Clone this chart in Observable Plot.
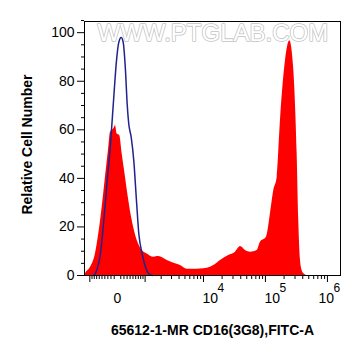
<!DOCTYPE html>
<html><head><meta charset="utf-8">
<script src="https://cdn.jsdelivr.net/npm/d3@7"></script>
<script src="https://cdn.jsdelivr.net/npm/@observablehq/plot@0.6"></script>
<style>body{margin:0;background:#fff} #chart{width:361px;height:356px}</style>
</head><body><div id="chart"></div>
<script>
// Histogram positions are in display units (decades on the biexponential axis, 0 = value 0)
const redX = [-0.532,-0.516,-0.435,-0.355,-0.302,-0.247,-0.194,-0.140,-0.113,-0.060,-0.032,-0.005,0.037,0.076,0.129,0.182,0.237,0.318,0.398,0.479,0.585,0.666,0.802,0.935,1.016,1.124,1.23,1.339,1.447,1.553,1.661,1.795,1.903,1.984,2.065,2.145,2.253,2.306,2.403,2.468,2.521,2.576,2.629,2.710,2.779,2.844,2.898,2.924,2.952,2.979,3.016,3.048,3.597];
const redY = [0,0.8,3.4,9,17.1,28,40.5,52.8,59,60.4,61.7,58.3,57.6,50,40.5,30.9,22.6,14.4,10.3,8.9,7.5,7.8,6.2,4.8,4.1,2.6,2.6,2.7,3.0,4.1,6.2,8.2,9.6,11.9,10.3,9.6,10.3,13.7,15.8,25.5,35,40.5,63.8,88.5,96.7,84.4,50,22.6,6.2,2,0.5,0,0];
const blueX = [-0.382,-0.327,-0.274,-0.221,-0.166,-0.113,-0.060,-0.016,0.021,0.060,0.092,0.129,0.156,0.182,0.221,0.263,0.306,0.344,0.398,0.452,0.505,0.560];
const blueY = [0,2.7,9,22.6,39,54,73.4,88.5,96,98,96,84.4,70.7,62.4,57,47.3,30.9,17.2,8.9,3.4,0.7,0];

const yMajor = [0,20,40,60,80,100];
const yMinor = [5,10,15,25,30,35,45,50,55,65,70,75,85,90,95,105];
const xMajorRaw = [-1000,1000,10000,100000,1000000];
const xMinorRaw = [-900,-800,-700,-600,-500,-400,-300,-200,-100,100,200,300,400,500,600,700,800,900,
  2000,3000,4000,5000,6000,7000,8000,9000,20000,30000,40000,50000,60000,70000,80000,90000,
  200000,300000,400000,500000,600000,700000,800000,900000];
const zeroLabel = ["0"];
const powLabels = [{v:10000, e:"4"},{v:100000, e:"5"}];
const powLabelsEdge = [{v:1000000, e:"6"}];
const xTitle = "65612-1-MR CD16(3G8),FITC-A";
const yTitle = "Relative Cell Number";
const watermark = "WWW.PTGLAB.COM";

const W = 411;
const disp = v => Math.asinh(v / (2 * W)) / Math.LN10;

const red = redX.map((x, i) => ({x, y: redY[i]}));
const blue = blueX.map((x, i) => ({x, y: blueY[i]}));
const font = "Liberation Sans, Arial, sans-serif";

const plot = Plot.plot({
  width: 361, height: 356,
  marginLeft: 84, marginRight: 21, marginTop: 21, marginBottom: 81,
  style: {fontFamily: font, background: "white", color: "black"},
  x: {domain: [-0.532, 3.597]},
  y: {domain: [0, 104.6]},
  marks: [
    Plot.text([watermark], {frameAnchor: "top-left", dx: 13, dy: 12, textAnchor: "start", lineAnchor: "middle",
      fontSize: 24, fill: "white", stroke: "#c4c4c4", strokeWidth: 1.6, text: d => d}),
    Plot.areaY(red, {x: "x", y: "y", fill: "#ff0000", curve: "monotone-x"}),
    Plot.lineY(blue, {x: "x", y: "y", stroke: "#22228f", strokeWidth: 1.5, curve: "monotone-x"}),
    Plot.frame({stroke: "black", strokeWidth: 1}),
    Plot.axisY({ticks: yMajor, tickSize: 7, tickPadding: 3, fontSize: 14, label: null}),
    Plot.axisY({ticks: yMinor, tickSize: 3, tickFormat: () => "", label: null}),
    Plot.axisX({ticks: xMajorRaw.map(disp), tickSize: 7, tickFormat: () => "", label: null}),
    Plot.axisX({ticks: xMinorRaw.map(disp), tickSize: 4, tickFormat: () => "", label: null}),
    Plot.text(zeroLabel, {x: () => disp(0), text: d => d, frameAnchor: "bottom", dy: 23, textAnchor: "middle", lineAnchor: "middle", fontSize: 14}),
    Plot.text(powLabels, {x: d => disp(d.v), text: () => "10", frameAnchor: "bottom", dx: -1, dy: 23, textAnchor: "start", lineAnchor: "middle", fontSize: 14}),
    Plot.text(powLabels, {x: d => disp(d.v), text: "e", frameAnchor: "bottom", dx: 14, dy: 13, textAnchor: "start", lineAnchor: "middle", fontSize: 12}),
    Plot.text(powLabelsEdge, {x: d => disp(d.v), text: () => "10", frameAnchor: "bottom", dx: -9, dy: 23, textAnchor: "start", lineAnchor: "middle", fontSize: 14}),
    Plot.text(powLabelsEdge, {x: d => disp(d.v), text: "e", frameAnchor: "bottom", dx: 6, dy: 13, textAnchor: "start", lineAnchor: "middle", fontSize: 12}),
    Plot.text([xTitle], {frameAnchor: "bottom", text: d => d, dy: 55, textAnchor: "middle", lineAnchor: "middle", fontSize: 14, fontWeight: "bold"}),
    Plot.text([yTitle], {frameAnchor: "left", text: d => d, dx: -57, dy: -4, rotate: -90, textAnchor: "middle", lineAnchor: "middle", fontSize: 14, fontWeight: "bold"})
  ]
});
document.getElementById("chart").appendChild(plot);
</script>
</body></html>
